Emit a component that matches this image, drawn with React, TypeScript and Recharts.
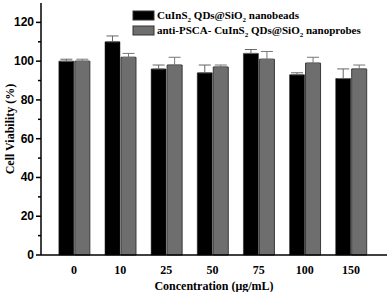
import { Bar, BarChart, ErrorBar, XAxis, YAxis } from 'recharts'

const concentrations = ['0', '10', '25', '50', '75', '100', '150']
const beads = [100, 110, 96, 94, 104, 93, 91]
const beadsErr = [1, 3, 2, 4, 2, 1, 5]
const probes = [100, 102, 98, 97, 101, 99, 96]
const probesErr = [1, 2, 4, 1, 4, 3, 2]
const yTicks = [0, 10, 20, 30, 40, 50, 60, 70, 80, 90, 100, 110, 120]

const data = concentrations.map((c, i) => ({
  name: c,
  beads: beads[i],
  beadsErr: [0, beadsErr[i]],
  probes: probes[i],
  probesErr: [0, probesErr[i]],
}))

const SERIF = '"Liberation Serif", "Times New Roman", serif'
const SANS = '"Liberation Sans", Arial, sans-serif'

function YTick(props: any) {
  const { x, y, payload } = props
  const major = payload.value % 20 === 0
  return (
    <g>
      <line x1={x - (major ? 5 : 3)} x2={x} y1={y} y2={y} stroke="#000" strokeWidth={1.5} />
      {major && (
        <text x={x - 7} y={y} dy={4} textAnchor="end" fontFamily={SANS} fontWeight="bold" fontSize={12} fill="#000">
          {payload.value}
        </text>
      )}
    </g>
  )
}

function Sub({ children }: { children: string }) {
  return (
    <tspan fontSize={7} dy={3}>
      {children}
    </tspan>
  )
}

function LegendBox() {
  const rows = [
    { fill: '#000', kind: 0 },
    { fill: '#6e6e6e', kind: 1 },
  ]
  return (
    <svg width={250} height={34} style={{ position: 'absolute', left: 130, top: 7 }}>
      {rows.map((r, i) => (
        <g key={i} transform={`translate(0, ${i * 15})`}>
          <rect x={3} y={4} width={21} height={9} fill={r.fill} stroke="#333" strokeWidth={1} />
          <text x={27} y={12} fontFamily={SERIF} fontWeight="bold" fontSize={11} fill="#000">
            {r.kind === 0 ? (
              <>
                CuInS<Sub>2</Sub>
                <tspan dy={-3}> QDs@SiO</tspan>
                <Sub>2</Sub>
                <tspan dy={-3}> nanobeads</tspan>
              </>
            ) : (
              <>
                anti-PSCA- CuInS<Sub>2</Sub>
                <tspan dy={-3}> QDs@SiO</tspan>
                <Sub>2</Sub>
                <tspan dy={-3}> nanoprobes</tspan>
              </>
            )}
          </text>
        </g>
      ))}
    </svg>
  )
}

export default function App() {
  return (
    <div style={{ position: 'absolute', left: 0, top: 0, width: 389, height: 292, background: '#fff' }}>
      <BarChart
        width={389}
        height={292}
        data={data}
        margin={{ top: 3, right: 2, bottom: 0, left: 0 }}
        barCategoryGap="17%"
        barGap={1}
      >
        <XAxis
          dataKey="name"
          height={37}
          padding={{ left: 10, right: 13 }}
          tickLine={false}
          axisLine={{ stroke: '#000', strokeWidth: 1.5 }}
          tick={{ fill: '#000', fontFamily: SERIF, fontWeight: 'bold', fontSize: 12 }}
          tickMargin={4}
          label={{
            value: 'Concentration (μg/mL)',
            position: 'insideBottom',
            offset: 2,
            fill: '#000',
            fontFamily: SERIF,
            fontWeight: 'bold',
            fontSize: 12,
          }}
        />
        <XAxis xAxisId="top" dataKey="name" orientation="top" height={0} tick={false} tickLine={false} axisLine={{ stroke: '#000', strokeWidth: 1.5 }} />
        <YAxis
          width={41}
          domain={[0, 130]}
          ticks={yTicks}
          interval={0}
          tickLine={false}
          tickSize={0}
          tickMargin={0}
          axisLine={{ stroke: '#000', strokeWidth: 1.5 }}
          tick={<YTick />}
          label={{
            value: 'Cell Viability (%)',
            angle: -90,
            position: 'insideLeft',
            offset: 10,
            fill: '#000',
            fontFamily: SERIF,
            fontWeight: 'bold',
            fontSize: 12,
            style: { textAnchor: 'middle' },
          }}
        />
        <YAxis yAxisId="right" orientation="right" width={0} tick={false} tickLine={false} axisLine={{ stroke: '#000', strokeWidth: 1.5 }} />
        <Bar dataKey="beads" fill="#000" stroke="#222" strokeWidth={0.5} isAnimationActive={false}>
          <ErrorBar dataKey="beadsErr" width={6} stroke="#666" strokeWidth={1} />
        </Bar>
        <Bar dataKey="probes" fill="#6e6e6e" stroke="#3a3a3a" strokeWidth={1} isAnimationActive={false}>
          <ErrorBar dataKey="probesErr" width={6} stroke="#777" strokeWidth={1} />
        </Bar>
      </BarChart>
      <LegendBox />
    </div>
  )
}
